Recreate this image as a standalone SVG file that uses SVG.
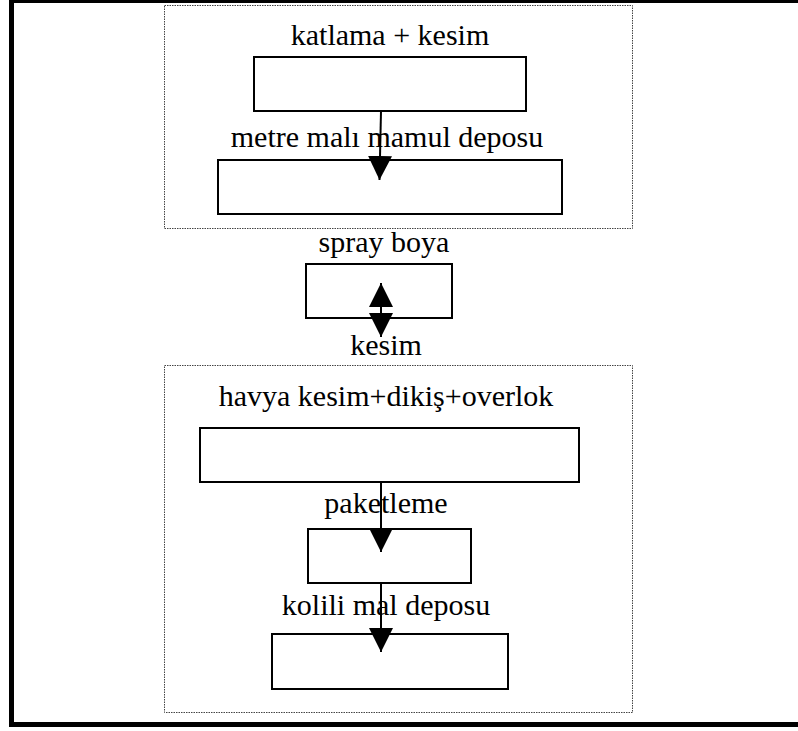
<svg xmlns="http://www.w3.org/2000/svg" width="798" height="731" viewBox="0 0 798 731">
  <style>
    .frame { fill: none; stroke: #000; stroke-width: 5; }
    .group { fill: none; stroke: #444; stroke-width: 1; stroke-dasharray: 1.5 1; }
    .box { fill: #fff; stroke: #000; stroke-width: 2; }
    .label { font-family: "Liberation Serif", "Times New Roman", serif; font-size: 30px; fill: #000; text-anchor: middle; }
    .link { fill: none; stroke: #000; stroke-width: 2; }
  </style>
  <defs>
    <marker id="head" markerUnits="userSpaceOnUse" markerWidth="24" markerHeight="24" refX="24" refY="12" orient="auto-start-reverse">
      <path d="M0,0 L24,12 L0,24 Z" fill="#000"/>
    </marker>
  </defs>

  <rect width="798" height="731" fill="#fff"/>
  <!-- outer frame -->
  <rect class="frame" x="11.5" y="0.5" width="800" height="724"/>

  <!-- dotted grouping frames -->
  <rect id="group-top" class="group" x="164.5" y="5.5" width="468" height="223"/>
  <rect id="group-bottom" class="group" x="164.5" y="365.5" width="468" height="347"/>

  <g id="n-katlama">
    <rect class="box" x="254" y="57" width="272" height="54"/>
    <text class="label" x="390" y="45">katlama + kesim</text>
  </g>
  <g id="n-metre">
    <rect class="box" x="218" y="160" width="344" height="54"/>
    <text class="label" x="387" y="147">metre malı mamul deposu</text>
  </g>
  <g id="n-spray">
    <rect class="box" x="306" y="264" width="146" height="54"/>
    <text class="label" x="384" y="252">spray boya</text>
  </g>
  <g id="n-kesim">
    <text class="label" x="386" y="355">kesim</text>
  </g>
  <g id="n-havya">
    <rect class="box" x="200" y="428" width="379" height="54"/>
    <text class="label" x="386" y="406">havya kesim+dikiş+overlok</text>
  </g>
  <g id="n-paketleme">
    <rect class="box" x="308" y="529" width="163" height="54"/>
    <text class="label" x="386" y="513">paketleme</text>
  </g>
  <g id="n-kolili">
    <rect class="box" x="272" y="634" width="236" height="55"/>
    <text class="label" x="386" y="615">kolili mal deposu</text>
  </g>

  <!-- connectors -->
  <g id="connectors">
    <line class="link" x1="381" y1="111" x2="379.5" y2="180" marker-end="url(#head)"/>
    <line class="link" x1="381" y1="337" x2="381" y2="283" marker-start="url(#head)" marker-end="url(#head)"/>
    <line class="link" x1="381" y1="482" x2="381" y2="552" marker-end="url(#head)"/>
    <line class="link" x1="381" y1="583" x2="381" y2="652" marker-end="url(#head)"/>
  </g>
</svg>
